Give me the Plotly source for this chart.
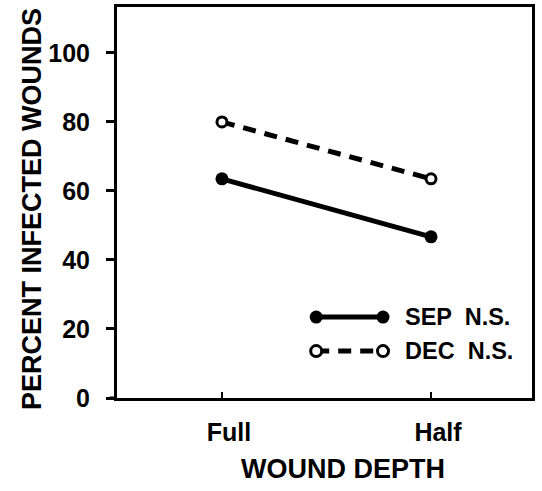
import plotly.graph_objects as go

categories = ["Full", "Half"]
sep_values = [63.5, 46.7]
dec_values = [80.0, 63.5]
y_ticks = [0, 20, 40, 60, 80, 100]
series_names = ["SEP  N.S.", "DEC  N.S."]
x_title = "WOUND DEPTH"
y_title = "PERCENT INFECTED WOUNDS"

x_pos = list(range(len(categories)))
FONT = "Liberation Sans, Arial, Helvetica, sans-serif"

fig = go.Figure()
fig.add_trace(go.Scatter(
    x=x_pos, y=sep_values, mode="lines+markers", name=series_names[0],
    line=dict(color="black", width=5),
    marker=dict(symbol="circle", size=13, color="black"),
    showlegend=False,
))
fig.add_trace(go.Scatter(
    x=x_pos, y=dec_values, mode="lines+markers", name=series_names[1],
    line=dict(color="black", width=5, dash="13px,9px"),
    marker=dict(symbol="circle", size=10, color="white",
                line=dict(color="black", width=3)),
    showlegend=False,
))

# manual legend (samples with markers at both ends, as in the original)
legend_rows = [0.207, 0.120]
lx0, lx1 = 0.480, 0.641
shapes = []
annotations = []
for i, (name, yy) in enumerate(zip(series_names, legend_rows)):
    dash = "solid" if i == 0 else "13px,9px"
    shapes.append(dict(type="line", xref="paper", yref="paper",
                       x0=lx0, x1=lx1, y0=yy, y1=yy,
                       line=dict(color="black", width=5, dash=dash)))
    for cx in (lx0, lx1):
        rx, ry = 6.5 / 415, 6.5 / 391
        if i == 1:
            rx, ry = 5.5 / 415, 5.5 / 391
        shapes.append(dict(type="circle", xref="paper", yref="paper",
                           x0=cx - rx, x1=cx + rx, y0=yy - ry, y1=yy + ry,
                           fillcolor="black" if i == 0 else "white",
                           line=dict(color="black", width=0 if i == 0 else 3)))
    annotations.append(dict(xref="paper", yref="paper", x=0.690, y=yy,
                            xanchor="left", yanchor="middle", showarrow=False,
                            text=name,
                            font=dict(family=FONT, size=23.5, color="black", weight="bold")))

# axis titles
annotations.append(dict(xref="paper", yref="paper", x=0.545, y=-0.182,
                        xanchor="center", yanchor="middle", showarrow=False,
                        text=x_title,
                        font=dict(family=FONT, size=27, color="black", weight="bold")))
annotations.append(dict(xref="paper", yref="paper", x=-0.205, y=0.483,
                        xanchor="center", yanchor="middle", showarrow=False,
                        textangle=-90, text=y_title,
                        font=dict(family=FONT, size=27, color="black", weight="bold")))

# extension of the bottom axis line to the left of the y axis
shapes.append(dict(type="line", xref="paper", yref="paper", x0=-0.018, x1=0,
                   y0=0, y1=0, line=dict(color="black", width=3)))

fig.update_layout(
    width=542, height=491,
    margin=dict(l=117, r=10, t=7, b=93),
    paper_bgcolor="white", plot_bgcolor="white",
    shapes=shapes, annotations=annotations,
    font=dict(family=FONT, color="black", weight="bold"),
)
fig.update_xaxes(
    range=[-0.502, 1.483], tickvals=x_pos, ticktext=categories,
    ticks="inside", ticklen=6, tickwidth=2, tickcolor="black",
    showline=True, linecolor="black", linewidth=3, mirror=True,
    showgrid=False, zeroline=False, automargin=False,
    tickfont=dict(family=FONT, size=25, weight="bold"),
    ticklabelshift=7, ticklabelstandoff=10,
)
fig.update_yaxes(
    range=[0, 113.3], tickvals=y_ticks,
    ticks="outside", ticklen=8, tickwidth=3, tickcolor="black",
    showline=True, linecolor="black", linewidth=3, mirror=True,
    showgrid=False, zeroline=False, automargin=False,
    tickfont=dict(family=FONT, size=25, weight="bold"),
    ticklabelstandoff=11,
)

fig.write_html("out.html",
               config={"displayModeBar": False},
               post_script="document.body.style.margin='0';document.body.style.padding='0';")
